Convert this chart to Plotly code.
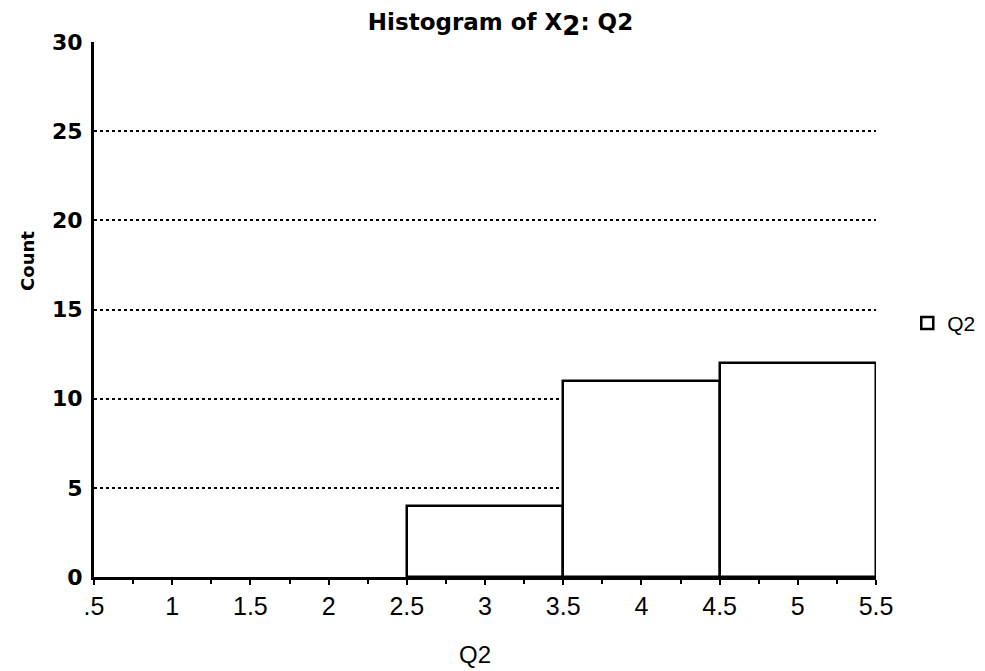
import plotly.graph_objects as go

bin_centers = [3, 4, 5]
counts = [4, 11, 12]
bin_width = [1, 1, 1]
x_tickvals = [0.5, 1, 1.5, 2, 2.5, 3, 3.5, 4, 4.5, 5, 5.5]
x_ticktext = [".5", "1", "1.5", "2", "2.5", "3", "3.5", "4", "4.5", "5", "5.5"]
y_tickvals = [0, 5, 10, 15, 20, 25, 30]
y_ticktext = ["<b>0</b>", "<b>5</b>", "<b>10</b>", "<b>15</b>", "<b>20</b>", "<b>25</b>", "<b>30</b>"]

fig = go.Figure()
fig.add_trace(go.Bar(
    x=bin_centers, y=counts, width=bin_width, name="Q2",
    marker=dict(color="white", line=dict(color="black", width=2.5)),
    showlegend=True,
))

fig.update_layout(
    width=985, height=671,
    paper_bgcolor="white", plot_bgcolor="white",
    margin=dict(l=86, r=100, t=34, b=102),
    title=dict(text="<b>Histogram of X<sub><span style='font-size:26px'>2</span></sub>: Q2</b>",
               x=0.5, xanchor="center", y=0.979, yanchor="middle",
               font=dict(family="DejaVu Sans", size=23, color="black")),
    font=dict(family="Liberation Sans", color="black"),
    legend=dict(x=1.04, y=0.474, xanchor="left", yanchor="middle",
                font=dict(family="Liberation Sans", size=21, color="black")),
    bargap=0,
    annotations=[
        dict(text="<b>Count</b>", xref="paper", yref="paper", x=-0.085, y=0.59,
             xanchor="center", yanchor="middle", textangle=-90, showarrow=False,
             font=dict(family="DejaVu Sans", size=18, color="black")),
        dict(text="Q2", xref="paper", yref="paper", x=0.487, y=-0.145,
             xanchor="center", yanchor="middle", showarrow=False,
             font=dict(family="Liberation Sans", size=24, color="black")),
    ],
)
fig.update_xaxes(
    range=[0.5, 5.5], tickvals=x_tickvals, ticktext=x_ticktext,
    showline=True, linecolor="black", linewidth=3,
    ticks="outside", ticklen=5, tickwidth=2, tickcolor="black",
    minor=dict(dtick=0.25, tick0=0.5, ticks="outside", ticklen=4, tickwidth=2, tickcolor="black"),
    showgrid=False, zeroline=False,
    tickfont=dict(family="Liberation Sans Narrow, Liberation Sans", size=25, color="black"),
)
fig.update_yaxes(
    range=[0, 30], tickvals=y_tickvals, ticktext=y_ticktext,
    showline=True, linecolor="black", linewidth=3,
    ticks="", showgrid=True, gridcolor="black", griddash="dot", gridwidth=2,
    zeroline=False, ticklabelstandoff=4,
    tickfont=dict(family="DejaVu Sans", size=22, color="black"),
)

fig.write_html("out.html")
